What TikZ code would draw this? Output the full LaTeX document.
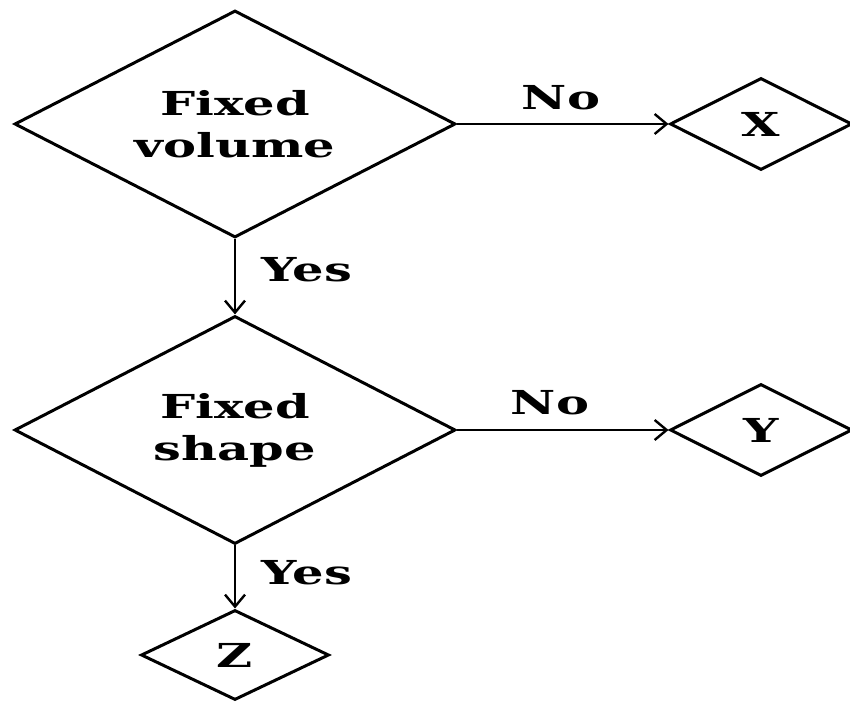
\documentclass[tikz,border=0pt]{standalone}
\usepackage{fontspec}
\setmainfont{DejaVu Serif}
\usetikzlibrary{shapes.geometric,arrows.meta}
\newcommand{\wide}[1]{\scalebox{1.5}[1]{#1}}
\begin{document}
\begin{tikzpicture}[x=1pt,y=1pt,
 dec/.style={diamond, draw, line width=3pt, inner sep=0pt, aspect=1.94,
   font=\fontsize{33}{42}\selectfont\bfseries, align=center},
 lab/.style={font=\fontsize{33}{36}\selectfont\bfseries, inner sep=0pt},
 conn/.style={line width=2.4pt, -{Straight Barb[length=12pt,width=20pt,line width=2.4pt]}}]
\useasboundingbox[fill=white] (0,0) rectangle (850,703);
\node[dec, minimum width=441pt, minimum height=227pt] (d1) at (235,579) {\wide{Fixed}\\\wide{volume}};
\node[dec, minimum width=441pt, minimum height=228pt] (d2) at (235,273) {\wide{Fixed}\\\wide{shape}};
\node[dec, minimum width=182pt, minimum height=92pt] (x) at (761,579) {\wide{X}};
\node[dec, minimum width=182pt, minimum height=92pt] (y) at (761,273) {\wide{Y}};
\node[dec, minimum width=188pt, minimum height=90pt] (z) at (235,48) {\wide{Z}};
\draw[conn] (d1.east) -- (x.west);
\draw[conn] (d2.east) -- (y.west);
\draw[conn] (d1.south) -- (d2.north);
\draw[conn] (d2.south) -- (z.north);
\node[lab] (no1) at (561,605) {\wide{No}};
\node[lab] (no2) at (550,300) {\wide{No}};
\node[lab] (yes1) at (307,433) {\wide{Yes}};
\node[lab] (yes2) at (307,130) {\wide{Yes}};
\end{tikzpicture}
\end{document}
